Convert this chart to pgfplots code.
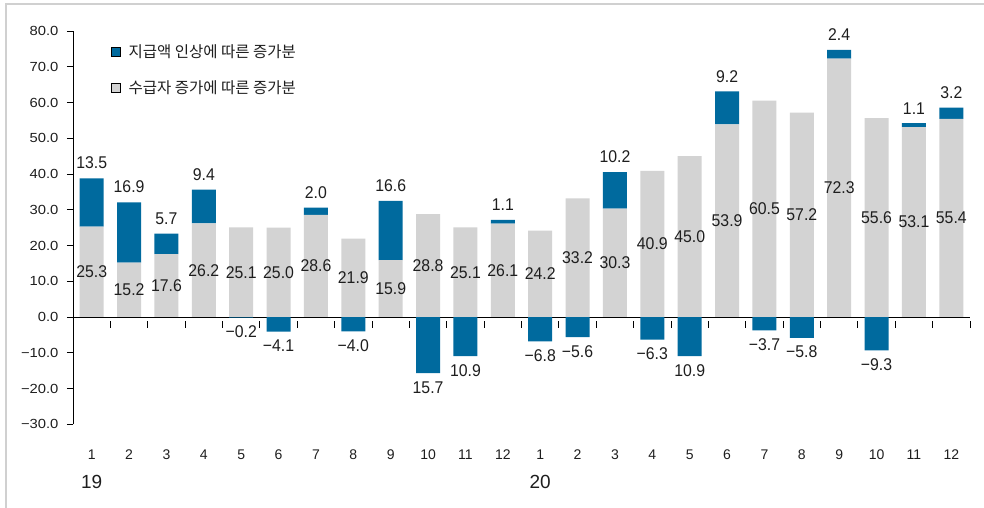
\documentclass[border=0pt]{standalone}
\usepackage{fontspec}
\usepackage{pgfplots}
\usepackage{pgfplotstable}
\pgfplotsset{compat=1.18}
\setmainfont{Liberation Sans}
\newfontfamily\numfont{Liberation Sans}[FakeStretch=0.93]
\newfontfamily\tickfont{Liberation Sans}[FakeStretch=1.12]
\newfontfamily\krfont{Noto Sans CJK KR}
\newcommand\lblsize{\fontsize{14pt}{14pt}\selectfont}
\newcommand\yrsize{\fontsize{19pt}{19pt}\selectfont}

\definecolor{payblue}{RGB}{0,106,158}
\definecolor{recgrey}{RGB}{211,211,211}
\definecolor{txt}{RGB}{30,30,30}

% month index, recipient-driven part, label, payment-driven part (>=0), label
\pgfplotstableread{
x grey glab blue blab
0  25.3 25.3 13.5 13.5
1  15.2 15.2 16.9 16.9
2  17.6 17.6 5.7  5.7
3  26.2 26.2 9.4  9.4
4  25.1 25.1 0    {}
5  25.0 25.0 0    {}
6  28.6 28.6 2.0  2.0
7  21.9 21.9 0    {}
8  15.9 15.9 16.6 16.6
9  28.8 28.8 0    {}
10 25.1 25.1 0    {}
11 26.1 26.1 1.1  1.1
12 24.2 24.2 0    {}
13 33.2 33.2 0    {}
14 30.3 30.3 10.2 10.2
15 40.9 40.9 0    {}
16 45.0 45.0 0    {}
17 53.9 53.9 9.2  9.2
18 60.5 60.5 0    {}
19 57.2 57.2 0    {}
20 72.3 72.3 2.4  2.4
21 55.6 55.6 0    {}
22 53.1 53.1 1.1  1.1
23 55.4 55.4 3.2  3.2
}\posdata

% payment-driven decreases
\pgfplotstableread{
x val lab
4  -0.2  −0.2
5  -4.1  −4.1
7  -4.0  −4.0
9  -15.7 15.7
10 -10.9 10.9
12 -6.8  −6.8
13 -5.6  −5.6
15 -6.3  −6.3
16 -10.9 10.9
18 -3.7  −3.7
19 -5.8  −5.8
21 -9.3  −9.3
}\negdata

\pgfplotsset{
  frame/.style={
    scale only axis, width=897pt, height=393.3pt,
    at={(73pt,83.7pt)}, anchor=south west,
    xmin=-0.5, xmax=23.5, ymin=-30, ymax=80,
  },
}
\tikzset{lbl/.style={font=\numfont\fontsize{17pt}{17pt}\selectfont, text=txt}}

\begin{document}
\begin{tikzpicture}
\path[use as bounding box] (0,0) rectangle (984pt,508pt);
\draw[color={rgb,255:red,208;green,208;blue,208}, line width=1.5pt]
  (6pt,0pt) -- (6pt,504pt) -- (984pt,504pt);

\begin{axis}[frame,
  axis y line*=left, axis x line*=bottom,
  x axis line style={draw=none}, y axis line style={-, black, line width=0.9pt},
  ytick={-30,-20,...,80},
  yticklabels={−30.0,−20.0,−10.0,0.0,10.0,20.0,30.0,40.0,50.0,60.0,70.0,80.0},
  yticklabel style={font=\tickfont\fontsize{13.2pt}{13.2pt}\selectfont, text=txt, xshift=-5pt},
  ytick style={black, line width=0.9pt}, ytick align=outside, major tick length=6pt,
  xtick={0,...,23},
  xticklabels={1,2,3,4,5,6,7,8,9,10,11,12,1,2,3,4,5,6,7,8,9,10,11,12},
  xtick style={draw=none},
  xticklabel style={font=\lblsize, text=txt, anchor=north, yshift=-22pt},
  % year markers under the first month of each year
  extra x ticks={0,12}, extra x tick labels={\yrsize 19,\yrsize 20},
  extra x tick style={tick style={draw=none}, tick label style={yshift=-25pt}},
  ybar stacked, bar width=24pt,
  legend cell align=left,
  legend style={draw=none, fill=none, at={(rel axis cs:0.039,0.975)}, anchor=north west,
    font=\krfont\fontsize{15.5pt}{15.5pt}\selectfont, text=txt, row sep=17pt},
  legend image code/.code={\fill[#1] (0pt,-4.5pt) rectangle (9pt,4.5pt); \path (15pt,0pt);},
]
\addlegendimage{fill=payblue}
\addlegendentry{지급액 인상에 따른 증가분}
\addlegendimage{fill=recgrey}
\addlegendentry{수급자 증가에 따른 증가분}

% stacked labels sit at the middle of each segment
\addplot[fill=recgrey, draw=none, forget plot,
  point meta=explicit symbolic, nodes near coords,
  every node near coord/.append style={lbl, anchor=center}]
  table[x=x, y=grey, meta=glab] {\posdata};
\addplot[fill=payblue, draw=none, forget plot,
  point meta=explicit symbolic, nodes near coords,
  visualization depends on=\thisrow{blue} \as \bv,
  every node near coord/.append style={lbl, anchor=south, inner sep=0pt,
    shift={(axis direction cs:0,\bv/2)}, yshift=9pt}]
  table[x=x, y=blue, meta=blab] {\posdata};
\end{axis}

\begin{axis}[frame,
  axis y line=none, axis x line=middle,
  x axis line style={-, black, line width=0.9pt},
  xtick={0.5,1.5,...,23.5}, xticklabels={},
  xtick style={black, line width=0.9pt, yshift=-3.5pt}, tick align=center, major tick length=7pt,
  ybar, bar width=24pt, bar shift=0pt,
]
\addplot[fill=payblue, draw=none,
  point meta=explicit symbolic, nodes near coords,
  every node near coord/.append style={lbl, anchor=north, inner sep=0pt, yshift=-8pt}]
  table[x=x, y=val, meta=lab] {\negdata};
\end{axis}
\end{tikzpicture}
\end{document}
